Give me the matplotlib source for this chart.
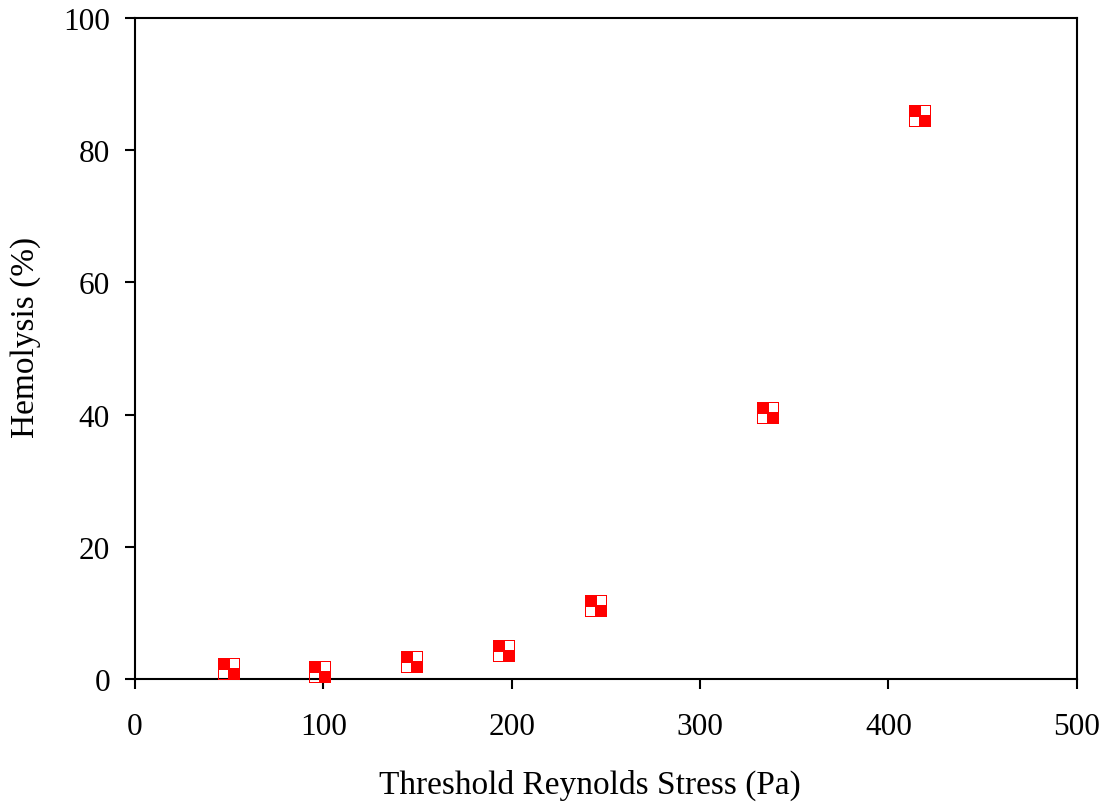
import matplotlib
matplotlib.use("Agg")
import matplotlib.pyplot as plt
from matplotlib.path import Path

plt.rcParams['font.family'] = ['Liberation Serif', 'DejaVu Serif']

stress_pa = [50, 98, 147, 196, 245, 336, 417]
hemolysis_pct = [1.5, 1.1, 2.6, 4.3, 11.0, 40.3, 85.2]

x_ticks = [0, 100, 200, 300, 400, 500]
y_ticks = [0, 20, 40, 60, 80, 100]


def checker_marker():
    # red square with two white quadrant holes (top-right and bottom-left)
    def sq(x0, y0, x1, y1, ccw=True):
        pts = [(x0, y0), (x1, y0), (x1, y1), (x0, y1)]
        if not ccw:
            pts = pts[::-1]
        return pts + [pts[0]]
    verts, codes = [], []
    for pts in (sq(-1, -1, 1, 1, True),
                sq(0.08, 0.08, 0.86, 0.86, False),
                sq(-0.86, -0.86, -0.08, -0.08, False)):
        verts += pts
        codes += [Path.MOVETO] + [Path.LINETO] * 3 + [Path.CLOSEPOLY]
    return Path(verts, codes)


fig = plt.figure(figsize=(11.01, 8.04), dpi=100)
ax = fig.add_axes([0.1226, 0.1542, 0.8554, 0.8222])

ax.plot(stress_pa, hemolysis_pct, linestyle='none', marker=checker_marker(),
        markersize=16, markerfacecolor='#ff0000', markeredgewidth=0,
        clip_on=False, zorder=3)

ax.set_xlim(0, 500)
ax.set_ylim(0, 100)
ax.set_xticks(x_ticks)
ax.set_yticks(y_ticks)
ax.tick_params(direction='out', length=7, width=1.5, labelsize=22.5)
ax.tick_params(axis='x', pad=17)
ax.tick_params(axis='y', pad=11)
for s in ax.spines.values():
    s.set_linewidth(1.5)

ax.set_xlabel('Threshold Reynolds Stress (Pa)', fontsize=24, labelpad=20)
ax.set_ylabel('Hemolysis (%)', fontsize=24, labelpad=16)
ax.xaxis.label.set_x(0.483)
ax.yaxis.label.set_y(0.518)

fig.savefig('out.png', dpi=100)
